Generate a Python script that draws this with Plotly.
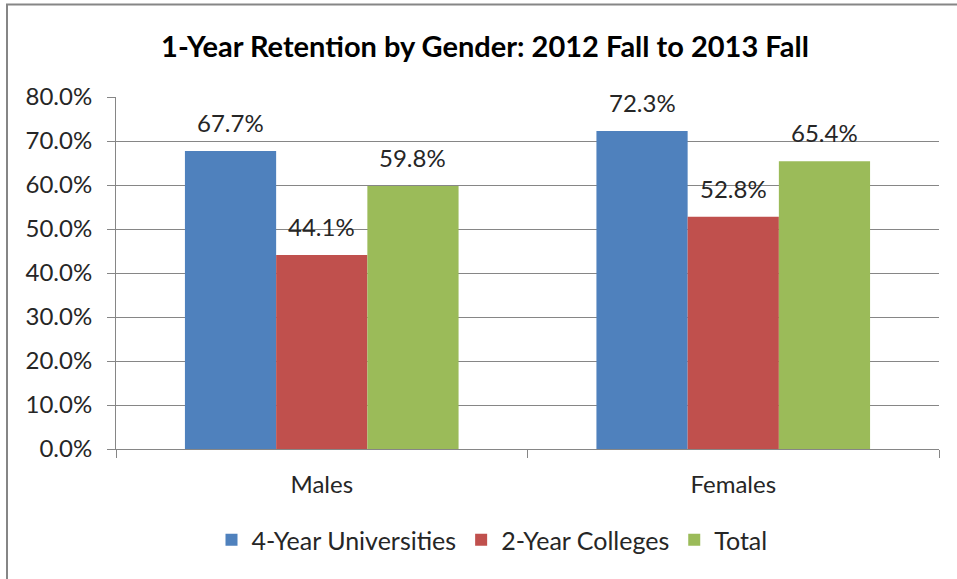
import plotly.graph_objects as go

categories = ["Males", "Females"]
series_names = ["4-Year Universities", "2-Year Colleges", "Total"]
univ_4yr = [0.677, 0.723]
coll_2yr = [0.441, 0.528]
total = [0.598, 0.654]
y_ticks = [0.0, 0.1, 0.2, 0.3, 0.4, 0.5, 0.6, 0.7, 0.8]
title_text = "1-Year Retention by Gender: 2012 Fall to 2013 Fall"

colors = ["#4F81BD", "#C0504D", "#9BBB59"]
series_values = [univ_4yr, coll_2yr, total]
FONT = "Lato"
TXT = "#262626"

W, H = 957, 579
L, R, T, B = 116, 18, 97, 130

fig = go.Figure()
for name, vals, col in zip(series_names, series_values, colors):
    fig.add_trace(go.Bar(x=categories, y=vals, name=name, marker=dict(color=col, line=dict(width=0))))

# data labels as annotations above bars
cat_px = (W - L - R) / len(categories)
group_frac = 1 - 0.335
bar_px = cat_px * group_frac / 3
for i, (vals, col) in enumerate(zip(series_values, colors)):
    for c, v in zip(categories, vals):
        fig.add_annotation(x=c, y=v, xref="x", yref="y", text=f"{v*100:.1f}%",
                           showarrow=False, xshift=(i - 1) * bar_px, yshift=12,
                           yanchor="bottom", font=dict(family=FONT, size=24, color=TXT))

pw, ph = W - L - R, H - T - B
def px_x(x):
    return (x - L) / pw
def px_y(y):
    return (H - B - y) / ph

# outer chart border (top and left visible)
fig.add_shape(type="line", xref="paper", yref="paper", x0=px_x(6), x1=px_x(960), y0=px_y(4.5), y1=px_y(4.5),
              line=dict(color="#868686", width=2))
fig.add_shape(type="line", xref="paper", yref="paper", x0=px_x(7), x1=px_x(7), y0=px_y(4), y1=px_y(585),
              line=dict(color="#868686", width=2))

fig.update_layout(
    width=W, height=H,
    margin=dict(l=L, r=R, t=T, b=B),
    paper_bgcolor="white", plot_bgcolor="white",
    barmode="group", bargap=0.335, bargroupgap=0,
    title=dict(text=f"<b>{title_text}</b>", x=485 / W, xref="container", xanchor="center",
               y=1 - 47 / H, yref="container", yanchor="middle",
               font=dict(family=FONT, size=29, color="#000000")),
    font=dict(family=FONT, size=24, color=TXT),
    showlegend=True,
    legend=dict(orientation="h", x=492 / W, xanchor="center", xref="container",
                y=1 - 540 / H, yref="container", yanchor="middle",
                font=dict(family=FONT, size=25, color=TXT),
                itemwidth=30, tracegroupgap=0, traceorder="normal"),
)
fig.update_yaxes(range=[0, 0.8], tickvals=y_ticks, tickformat=".1%",
                 showgrid=True, gridcolor="#868686", gridwidth=1,
                 showline=True, linecolor="#868686", linewidth=1,
                 ticks="outside", ticklen=8, tickcolor="#868686",
                 ticklabelstandoff=10, zeroline=False,
                 tickfont=dict(family=FONT, size=24, color=TXT))
fig.update_xaxes(showline=True, linecolor="#868686", linewidth=1,
                 ticks="outside", ticklen=8, tickcolor="#868686", tickson="boundaries",
                 ticklabelstandoff=14,
                 tickfont=dict(family=FONT, size=24, color=TXT))

fig.write_html("out.html", config={"displayModeBar": False},
               post_script="document.body.style.margin='0';")
